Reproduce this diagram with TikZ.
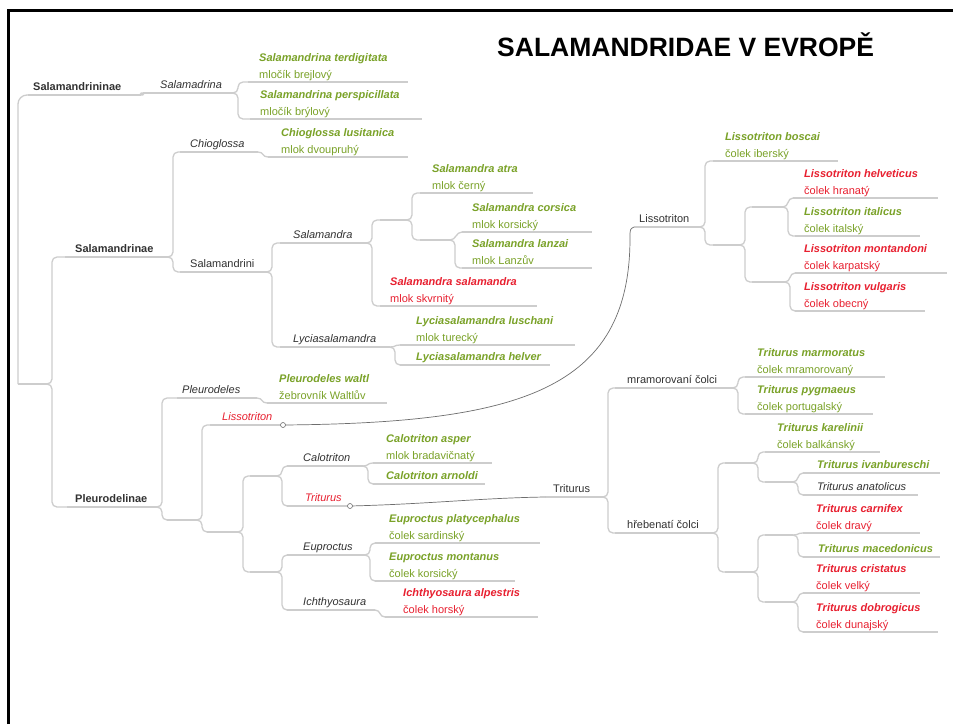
\documentclass[tikz,border=0pt]{standalone}
\usepackage{fontspec}
\setmainfont{Liberation Sans}
\usetikzlibrary{calc}
\definecolor{sgreen}{RGB}{122,162,40}
\definecolor{sred}{RGB}{232,32,48}
\definecolor{dark}{RGB}{50,50,50}
\definecolor{lgray}{RGB}{205,205,205}
\definecolor{rgray}{RGB}{110,110,110}
\newcommand\fsz{\fontsize{11}{13}\selectfont}
\tikzset{
  uline/.style={draw=lgray, line width=1.3pt},
  conn/.style={draw=lgray, line width=1.3pt, rounded corners=5pt},
  conns/.style={draw=lgray, line width=1.3pt},
  lbl/.style={anchor=base west, inner sep=0pt, font=\fsz},
  rel/.style={draw=rgray, line width=0.7pt},
  relc/.style={circle, draw=rgray, fill=white, line width=0.6pt, inner sep=0pt, minimum size=5pt},
}
% underline: name, x1, x2, y
\newcommand\ul[4]{\coordinate (#1) at (#2,#4); \coordinate (#1e) at (#3,#4); \draw[uline] (#1) -- (#1e);}
% one-line node: name, x1, x2, y, text x, options, text
\newcommand\leafOne[7]{\ul{#1}{#2}{#3}{#4}\node[lbl,#6] (#1a) at (#5,#4-4.5) {#7};}
% two-line species: name, x1, x2, y, text x, options, species, common
\newcommand\leafTwo[8]{\ul{#1}{#2}{#3}{#4}\node[lbl,#6] (#1a) at (#5,#4-20.5) {\bfseries\itshape #7};\node[lbl,#6] (#1b) at (#5,#4-4) {#8};}
% elbow connector and small S connector
\newcommand\conn[2]{\draw[conn] (#1e) -- ++(5,0) |- (#2);}
\newcommand\connS[2]{\draw[conns] (#1e) .. controls +(6,0) and +(-6,0) .. (#2);}
\begin{document}
\begin{tikzpicture}[x=1pt,y=-1pt]
\useasboundingbox (0,0) rectangle (953,724);
\fill[white] (0,0) rectangle (953,724);
\draw[line width=2.7pt] (8.5,724) -- (8.5,10.7) -- (953,10.7);
\node[anchor=base west, inner sep=0pt, font=\fontsize{26.5}{30}\selectfont\bfseries] (title) at (497,56) {SALAMANDRIDAE V EVROPĚ};
% root
\coordinate (root) at (18,384);
\coordinate (roote) at (47,384);
% Salamandrininae
\leafOne{sA}{28}{141}{95}{33}{text=dark}{\bfseries Salamandrininae}
\leafOne{sal}{143}{233}{93}{160}{text=dark}{\itshape Salamadrina}
\leafTwo{ster}{248}{408}{82}{259}{text=sgreen}{Salamandrina terdigitata}{mločík brejlový}
\leafTwo{sper}{250}{422}{119}{260}{text=sgreen}{Salamandrina perspicillata}{mločík brýlový}
% Salamandrinae
\leafOne{sB}{65}{168}{257}{75}{text=dark}{\bfseries Salamandrinae}
\leafOne{chi}{180}{258}{152}{190}{text=dark}{\itshape Chioglossa}
\leafTwo{chil}{268}{408}{157}{281}{text=sgreen}{Chioglossa lusitanica}{mlok dvoupruhý}
\leafOne{sini}{180}{267}{272}{190}{text=dark}{Salamandrini}
\leafOne{sala}{280}{367}{243}{293}{text=dark}{\itshape Salamandra}
\ul{su1}{380}{407}{220}
\leafTwo{atra}{420}{533}{193}{432}{text=sgreen}{Salamandra atra}{mlok černý}
\ul{su2}{420}{450}{240}
\leafTwo{cors}{462}{592}{232}{472}{text=sgreen}{Salamandra corsica}{mlok korsický}
\leafTwo{lanz}{462}{592}{268}{472}{text=sgreen}{Salamandra lanzai}{mlok Lanzův}
\leafTwo{ssal}{380}{537}{306}{390}{text=sred}{Salamandra salamandra}{mlok skvrnitý}
\leafOne{lyc}{280}{390}{347}{293}{text=dark}{\itshape Lyciasalamandra}
\leafTwo{lusc}{400}{575}{345}{416}{text=sgreen}{Lyciasalamandra luschani}{mlok turecký}
\leafOne{helv}{400}{550}{365}{416}{text=sgreen}{\bfseries\itshape Lyciasalamandra helver}
% Pleurodelinae
\leafOne{sC}{67}{157}{507}{75}{text=dark}{\bfseries Pleurodelinae}
\leafOne{ple}{177}{257}{398}{182}{text=dark}{\itshape Pleurodeles}
\leafTwo{walt}{267}{387}{403}{279}{text=sgreen}{Pleurodeles waltl}{žebrovník Waltlův}
\ul{pu1}{167}{197}{520}
\leafOne{lisr}{210}{283}{425}{222}{text=sred}{\itshape Lissotriton}
\ul{pu2}{207}{238}{532}
\ul{pu3}{250}{277}{476}
\ul{pu4}{250}{277}{572}
\leafOne{calo}{287}{363}{466}{303}{text=dark}{\itshape Calotriton}
\leafTwo{asp}{373}{492}{463}{386}{text=sgreen}{Calotriton asper}{mlok bradavičnatý}
\leafOne{arn}{373}{485}{484}{386}{text=sgreen}{\bfseries\itshape Calotriton arnoldi}
\leafOne{trir}{287}{350}{506}{305}{text=sred}{\itshape Triturus}
\leafOne{eup}{287}{365}{555}{303}{text=dark}{\itshape Euproctus}
\leafTwo{plat}{375}{540}{543}{389}{text=sgreen}{Euproctus platycephalus}{čolek sardinský}
\leafTwo{mont}{375}{515}{581}{389}{text=sgreen}{Euproctus montanus}{čolek korsický}
\leafOne{ich}{287}{375}{610}{303}{text=dark}{\itshape Ichthyosaura}
\leafTwo{alp}{385}{538}{617}{403}{text=sred}{Ichthyosaura alpestris}{čolek horský}
% Lissotriton (right)
\leafOne{lis}{634}{700}{227}{639}{text=dark}{Lissotriton}
\leafTwo{bos}{713}{838}{161}{725}{text=sgreen}{Lissotriton boscai}{čolek iberský}
\ul{lu1}{713}{740}{245}
\ul{lu2}{752}{783}{207}
\ul{lu3}{752}{785}{282}
\leafTwo{hel}{793}{938}{198}{804}{text=sred}{Lissotriton helveticus}{čolek hranatý}
\leafTwo{ita}{795}{920}{236}{804}{text=sgreen}{Lissotriton italicus}{čolek italský}
\leafTwo{mon}{795}{947}{273}{804}{text=sred}{Lissotriton montandoni}{čolek karpatský}
\leafTwo{vul}{795}{925}{311}{804}{text=sred}{Lissotriton vulgaris}{čolek obecný}
% Triturus (right)
\leafOne{tri}{545}{603}{497}{553}{text=dark}{Triturus}
\leafOne{mram}{615}{733}{388}{627}{text=dark}{mramorovaní čolci}
\leafTwo{marm}{745}{885}{377}{757}{text=sgreen}{Triturus marmoratus}{čolek mramorovaný}
\leafTwo{pyg}{745}{873}{414}{757}{text=sgreen}{Triturus pygmaeus}{čolek portugalský}
\leafOne{hreb}{615}{713}{533}{627}{text=dark}{hřebenatí čolci}
\ul{ta}{725}{753}{463}
\leafTwo{kar}{765}{880}{452}{777}{text=sgreen}{Triturus karelinii}{čolek balkánský}
\ul{tb}{765}{793}{482}
\leafOne{iva}{803}{940}{473}{817}{text=sgreen}{\bfseries\itshape Triturus ivanbureschi}
\leafOne{ana}{803}{918}{495}{817}{text=dark}{\itshape Triturus anatolicus}
\ul{tc}{725}{753}{572}
\ul{te}{765}{793}{535}
\ul{tf}{765}{793}{602}
\leafTwo{carn}{803}{920}{533}{816}{text=sred}{Triturus carnifex}{čolek dravý}
\leafOne{mac}{803}{940}{557}{818}{text=sgreen}{\bfseries\itshape Triturus macedonicus}
\leafTwo{cris}{803}{920}{593}{816}{text=sred}{Triturus cristatus}{čolek velký}
\leafTwo{dob}{803}{938}{632}{816}{text=sred}{Triturus dobrogicus}{čolek dunajský}
% connectors
\draw[uline] (root) -- (roote);
\draw[conn, rounded corners=9pt] (root) |- (sA);
\draw[conn] (roote) -- ++(5,0) |- (sB);
\draw[conn] (roote) -- ++(5,0) |- (sC);
\connS{sA}{sal}
\conn{sal}{ster}\conn{sal}{sper}
\conn{sB}{chi}\conn{sB}{sini}
\connS{chi}{chil}
\conn{sini}{sala}\conn{sini}{lyc}
\conn{sala}{su1}\conn{sala}{ssal}
\conn{su1}{atra}\conn{su1}{su2}
\connS{su2}{cors}\conn{su2}{lanz}
\connS{lyc}{lusc}\conn{lyc}{helv}
\conn{sC}{ple}\conn{sC}{pu1}
\connS{ple}{walt}
\conn{pu1}{lisr}\conn{pu1}{pu2}
\conn{pu2}{pu3}\conn{pu2}{pu4}
\conn{pu3}{calo}\conn{pu3}{trir}
\connS{calo}{asp}\conn{calo}{arn}
\conn{pu4}{eup}\conn{pu4}{ich}
\conn{eup}{plat}\conn{eup}{mont}
\connS{ich}{alp}
\conn{lis}{bos}\conn{lis}{lu1}
\conn{lu1}{lu2}\conn{lu1}{lu3}
\connS{lu2}{hel}\conn{lu2}{ita}
\connS{lu3}{mon}\conn{lu3}{vul}
\conn{tri}{mram}\conn{tri}{hreb}
\conn{mram}{marm}\conn{mram}{pyg}
\conn{hreb}{ta}\conn{hreb}{tc}
\conn{ta}{kar}\conn{ta}{tb}
\connS{tb}{iva}\conn{tb}{ana}
\conn{tc}{te}\conn{tc}{tf}
\connS{te}{carn}\conn{te}{mac}
\connS{tf}{cris}\conn{tf}{dob}
% relationships
\draw[rel] (lisre) .. controls (520,423) and (630,390) .. (630,238) .. controls (630,229) .. (lis);
\draw[rel] (trire) .. controls (430,504) and (480,498) .. (tri);
\node[relc] (lisc) at (lisre) {};
\node[relc] (tric) at (trire) {};
\end{tikzpicture}
\end{document}
